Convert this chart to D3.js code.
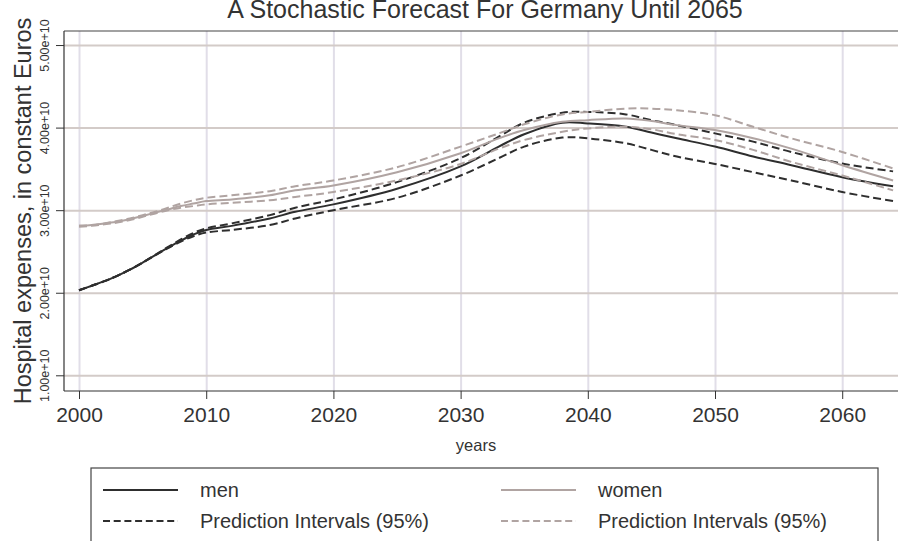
<!DOCTYPE html>
<html>
<head>
<meta charset="utf-8">
<script src="https://cdn.jsdelivr.net/npm/d3@7"></script>
<style>
  body { margin: 0; background: #fff; }
  svg { display: block; font-family: "Liberation Sans", Arial, sans-serif; }
</style>
</head>
<body>
<svg width="898" height="541"></svg>
<script>
// values in units of 1e10 euros
const years = [2000, 2001, 2002, 2003, 2004, 2005, 2006, 2007, 2008, 2009, 2010, 2012, 2015, 2017, 2020, 2025, 2030, 2033, 2035, 2038, 2040, 2043, 2045, 2047, 2050, 2053, 2056, 2060, 2064]
const men = [2.03, 2.085, 2.14, 2.205, 2.28, 2.365, 2.455, 2.545, 2.63, 2.705, 2.76, 2.81, 2.90, 2.98, 3.07, 3.26, 3.53, 3.77, 3.92, 4.06, 4.05, 4.01, 3.94, 3.87, 3.77, 3.65, 3.545, 3.40, 3.29]
const menLow = [2.03, 2.085, 2.14, 2.205, 2.28, 2.365, 2.455, 2.54, 2.62, 2.685, 2.73, 2.76, 2.82, 2.90, 3.00, 3.15, 3.42, 3.63, 3.77, 3.88, 3.87, 3.81, 3.73, 3.65, 3.56, 3.46, 3.36, 3.22, 3.11]
const menHigh = [2.03, 2.085, 2.14, 2.205, 2.28, 2.365, 2.46, 2.555, 2.645, 2.725, 2.78, 2.84, 2.94, 3.03, 3.13, 3.34, 3.63, 3.89, 4.06, 4.18, 4.19, 4.16, 4.09, 4.03, 3.93, 3.83, 3.705, 3.565, 3.47]
const women = [2.81, 2.82, 2.84, 2.86, 2.89, 2.93, 2.97, 3.01, 3.05, 3.08, 3.11, 3.13, 3.18, 3.24, 3.30, 3.46, 3.69, 3.87, 3.97, 4.07, 4.09, 4.11, 4.08, 4.03, 3.97, 3.87, 3.745, 3.545, 3.36]
const womenLow = [2.80, 2.81, 2.83, 2.85, 2.88, 2.92, 2.96, 3.00, 3.03, 3.05, 3.07, 3.09, 3.12, 3.16, 3.22, 3.36, 3.56, 3.745, 3.85, 3.95, 3.99, 4.01, 3.98, 3.92, 3.85, 3.73, 3.585, 3.42, 3.24]
const womenHigh = [2.81, 2.82, 2.84, 2.87, 2.90, 2.94, 2.98, 3.03, 3.08, 3.12, 3.15, 3.18, 3.23, 3.29, 3.36, 3.52, 3.77, 3.93, 4.04, 4.16, 4.19, 4.23, 4.23, 4.21, 4.15, 4.01, 3.87, 3.705, 3.505]

const xTicks = [2000, 2010, 2020, 2030, 2040, 2050, 2060]
const yTicks = [1e10, 2e10, 3e10, 4e10, 5e10]
const unit = 1e10

const dark = '#2e2e2e'
const grey = '#b0a4a2'

const margin = { left: 64, top: 31 }
const width = 860
const height = 360

const svg = d3.select('svg')

// title
svg.append('text')
  .attr('x', 485)
  .attr('y', 18)
  .attr('text-anchor', 'middle')
  .attr('font-size', 25)
  .attr('fill', '#333')
  .text('A Stochastic Forecast For Germany Until 2065')

const chart = svg.append('g')
  .attr('transform', `translate(${margin.left}, ${margin.top})`)

const xScale = d3.scaleLinear()
  .domain([1998.82, 2066.43])
  .range([0, width])

const yScale = d3.scaleLinear()
  .domain([0.81e10, 5.17e10])
  .range([height, 0])

// vertical grid
chart.append('g')
  .call(d3.axisBottom(xScale).tickValues(xTicks).tickSize(height).tickFormat(''))
  .call(g => g.select('.domain').remove())
  .call(g => g.selectAll('line').attr('stroke', '#e1dee8').attr('stroke-width', 2))

// horizontal grid
chart.append('g')
  .call(d3.axisLeft(yScale).tickValues(yTicks).tickSize(-width).tickFormat(''))
  .call(g => g.select('.domain').remove())
  .call(g => g.selectAll('line').attr('stroke', '#d3cbc8').attr('stroke-width', 2))

// top frame line
chart.append('line')
  .attr('x1', 0).attr('x2', width)
  .attr('y1', 0).attr('y2', 0)
  .attr('stroke', '#444').attr('stroke-width', 1.2)

// axes
const yAxis = chart.append('g')
  .call(d3.axisLeft(yScale).tickValues(yTicks).tickSize(8).tickFormat(d3.format('.2e')))
yAxis.select('.domain').attr('d', `M0,0V${height}`).attr('stroke', '#333').attr('stroke-width', 1.2)
yAxis.selectAll('.tick line').attr('stroke', '#333')
yAxis.selectAll('.tick text')
  .attr('transform', 'rotate(-90)')
  .attr('x', 0)
  .attr('y', -15)
  .attr('dy', 0)
  .attr('text-anchor', 'middle')
  .attr('font-size', 12.5)
  .attr('font-family', '"Liberation Sans", Arial, sans-serif')
  .attr('fill', '#333')

const xAxis = chart.append('g')
  .attr('transform', `translate(0, ${height})`)
  .call(d3.axisBottom(xScale).tickValues(xTicks).tickSize(8).tickFormat(d3.format('d')))
xAxis.select('.domain').attr('d', `M0,0H${width}`).attr('stroke', '#333').attr('stroke-width', 1.2)
xAxis.selectAll('.tick line').attr('stroke', '#333')
xAxis.selectAll('.tick text')
  .attr('y', 31)
  .attr('dy', 0)
  .attr('font-size', 21)
  .attr('font-family', '"Liberation Sans", Arial, sans-serif')
  .attr('fill', '#333')

// axis titles
svg.append('text')
  .attr('x', 476)
  .attr('y', 451)
  .attr('text-anchor', 'middle')
  .attr('font-size', 16.5)
  .attr('fill', '#333')
  .text('years')

svg.append('text')
  .attr('transform', 'translate(31, 211) rotate(-90)')
  .attr('text-anchor', 'middle')
  .attr('font-size', 23.5)
  .attr('fill', '#333')
  .text('Hospital expenses, in constant Euros')

// lines
const line = d3.line()
  .x(d => xScale(d[0]))
  .y(d => yScale(d[1] * unit))
  .curve(d3.curveCatmullRom.alpha(0.5))

const series = [
  { values: menLow, color: dark, dash: '8,4' },
  { values: menHigh, color: dark, dash: '8,4' },
  { values: men, color: dark, dash: null },
  { values: womenLow, color: grey, dash: '8,4' },
  { values: womenHigh, color: grey, dash: '8,4' },
  { values: women, color: grey, dash: null }
]

chart.selectAll('.series')
  .data(series)
  .enter()
  .append('path')
  .attr('class', 'series')
  .attr('fill', 'none')
  .attr('stroke', d => d.color)
  .attr('stroke-width', 2)
  .attr('stroke-dasharray', d => d.dash)
  .attr('d', d => line(years.map((y, i) => [y, d.values[i]])))

// legend
const legend = svg.append('g')
svg.append('rect')
  .attr('x', 91).attr('y', 468)
  .attr('width', 787).attr('height', 90)
  .attr('fill', 'none')
  .attr('stroke', '#444')
  .attr('stroke-width', 1.2)

const legendItems = [
  { label: 'men', color: dark, dash: null, x: 103, y: 490 },
  { label: 'women', color: grey, dash: null, x: 501, y: 490 },
  { label: 'Prediction Intervals (95%)', color: dark, dash: '7,3.7', x: 103, y: 521 },
  { label: 'Prediction Intervals (95%)', color: grey, dash: '7,3.7', x: 501, y: 521 }
]

const item = legend.selectAll('g')
  .data(legendItems)
  .enter()
  .append('g')
  .attr('transform', d => `translate(${d.x}, ${d.y})`)

item.append('line')
  .attr('x1', 0).attr('x2', 75)
  .attr('stroke', d => d.color)
  .attr('stroke-width', 2)
  .attr('stroke-dasharray', d => d.dash)

item.append('text')
  .attr('x', 97)
  .attr('y', 7)
  .attr('font-size', 20)
  .attr('fill', '#333')
  .text(d => d.label)
</script>
</body>
</html>
